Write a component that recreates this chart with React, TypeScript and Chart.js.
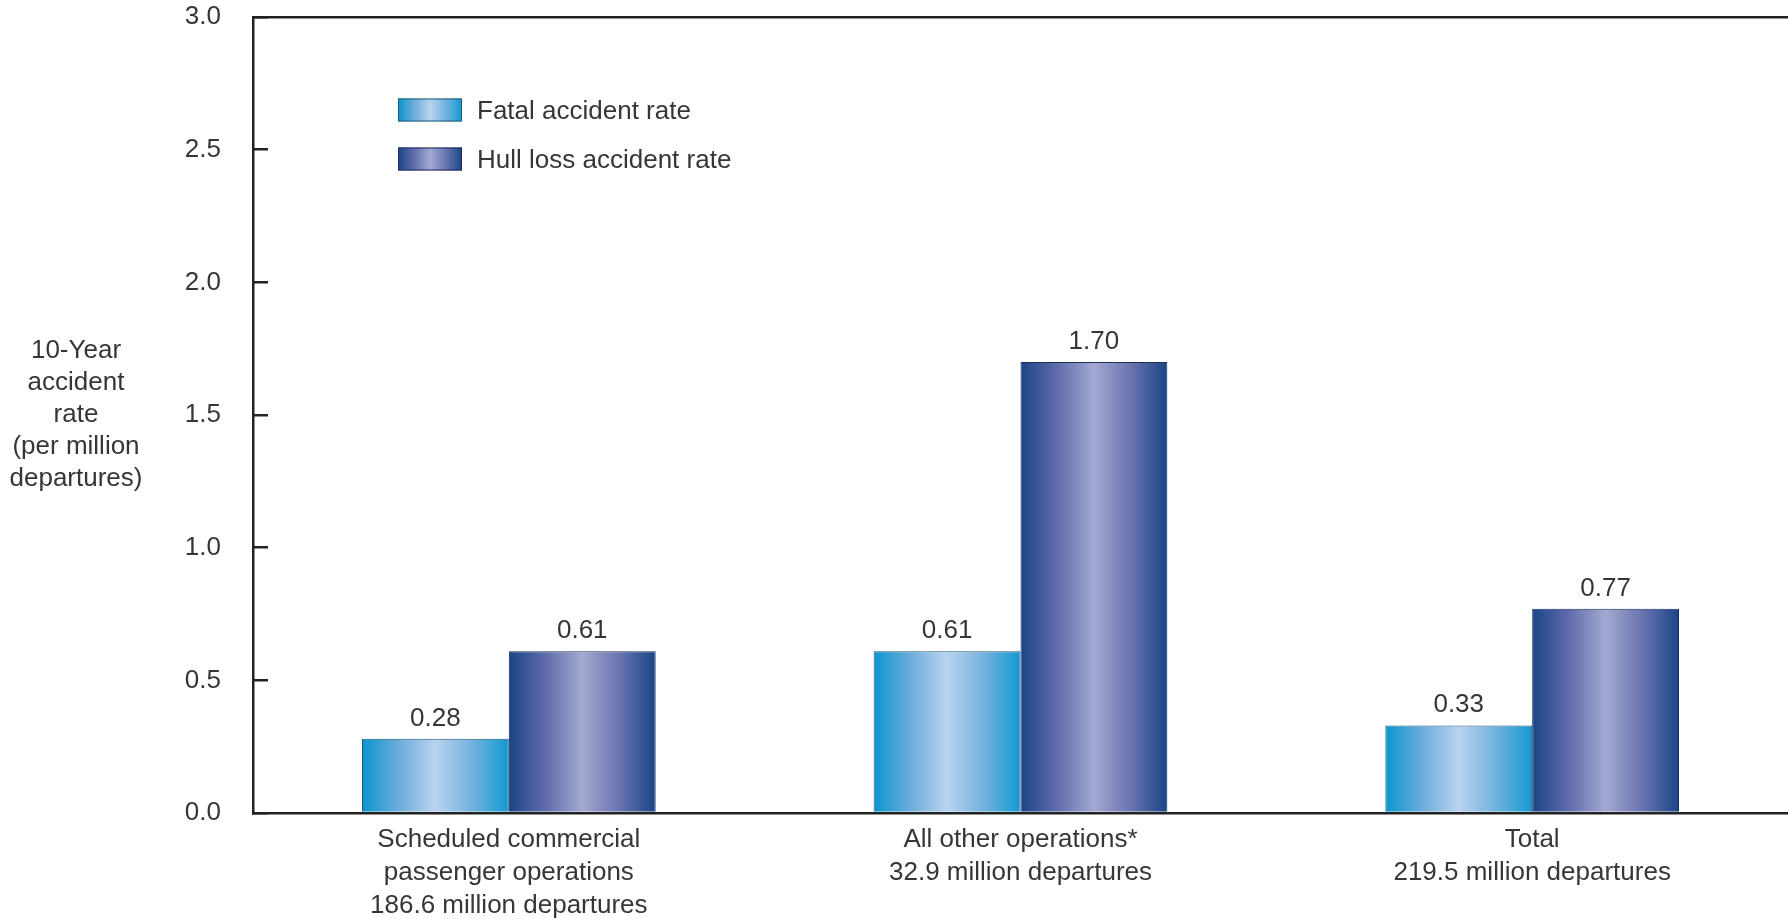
import React, { useEffect, useRef } from "react";
import { Chart, registerables } from "chart.js";

Chart.register(...registerables);

const categories: string[][] = [
  ["Scheduled commercial", "passenger operations", "186.6 million departures"],
  ["All other operations*", "32.9 million departures"],
  ["Total", "219.5 million departures"],
];
const seriesNames = ["Fatal accident rate", "Hull loss accident rate"];
const fatalRates = [0.28, 0.61, 0.33];
const hullLossRates = [0.61, 1.7, 0.77];
const yTitleLines = ["10-Year", "accident", "rate", "(per million", "departures)"];
const yMin = 0;
const yMax = 3;
const yStep = 0.5;

const FONT = "'Liberation Sans', Arial, sans-serif";
const FS = 26;
const TEXT = "#363636";
const AXIS = "#222222";

const gradientStops: [number, string][][] = [
  [
    [0, "#0a95cf"],
    [0.25, "#6badda"],
    [0.5, "#b9d3ef"],
    [0.75, "#72b2de"],
    [1, "#1499d2"],
  ],
  [
    [0, "#1a4487"],
    [0.25, "#5f6cab"],
    [0.5, "#a3a9d1"],
    [0.75, "#6a74b0"],
    [1, "#1a4487"],
  ],
];
const borderColors = ["#1d5a7e", "#1b2f62"];

function makeGradient(ctx: CanvasRenderingContext2D, left: number, width: number, idx: number) {
  const g = ctx.createLinearGradient(left, 0, left + width, 0);
  gradientStops[idx].forEach(([o, c]) => g.addColorStop(o, c));
  return g;
}

const gradientPlugin = {
  id: "barGradient",
  beforeDatasetsDraw(chart: any) {
    const ctx = chart.ctx;
    chart.data.datasets.forEach((_: any, i: number) => {
      const meta = chart.getDatasetMeta(i);
      meta.data.forEach((el: any) => {
        const { x, width } = el.getProps(["x", "width"], true);
        const left = x - width / 2;
        el.options = { ...el.options, backgroundColor: makeGradient(ctx, left, width, i) };
      });
    });
  },
};

const valueLabelPlugin = {
  id: "valueLabels",
  afterDatasetsDraw(chart: any) {
    const ctx = chart.ctx;
    ctx.save();
    ctx.font = `${FS}px ${FONT}`;
    ctx.fillStyle = TEXT;
    ctx.textAlign = "center";
    ctx.textBaseline = "alphabetic";
    chart.data.datasets.forEach((ds: any, i: number) => {
      const meta = chart.getDatasetMeta(i);
      meta.data.forEach((el: any, j: number) => {
        const { x, y } = el.getProps(["x", "y"], true);
        ctx.fillText(Number(ds.data[j]).toFixed(2), x, y - 13);
      });
    });
    ctx.restore();
  },
};

const legendPlugin = {
  id: "customLegend",
  afterDraw(chart: any) {
    const ctx = chart.ctx;
    ctx.save();
    const boxX = 398;
    const boxW = 64;
    const boxH = 23;
    const rowY = [110, 159];
    chart.data.datasets.forEach((ds: any, i: number) => {
      const cy = rowY[i];
      ctx.fillStyle = makeGradient(ctx, boxX, boxW, i);
      ctx.fillRect(boxX, cy - boxH / 2, boxW, boxH);
      ctx.strokeStyle = borderColors[i];
      ctx.lineWidth = 1;
      ctx.strokeRect(boxX + 0.5, cy - boxH / 2 + 0.5, boxW - 1, boxH - 1);
      ctx.font = `${FS}px ${FONT}`;
      ctx.fillStyle = TEXT;
      ctx.textAlign = "left";
      ctx.textBaseline = "middle";
      ctx.fillText(ds.label, 477, cy + 2);
    });
    ctx.restore();
  },
};

const yTitlePlugin = {
  id: "yTitle",
  afterDraw(chart: any) {
    const ctx = chart.ctx;
    const area = chart.chartArea;
    ctx.save();
    ctx.font = `${FS}px ${FONT}`;
    ctx.fillStyle = TEXT;
    ctx.textAlign = "center";
    ctx.textBaseline = "middle";
    const lh = 32;
    const mid = (area.top + area.bottom) / 2;
    const start = mid - ((yTitleLines.length - 1) * lh) / 2;
    yTitleLines.forEach((t, k) => ctx.fillText(t, 76, start + k * lh));
    ctx.restore();
  },
};

export default function App() {
  const ref = useRef<HTMLCanvasElement | null>(null);

  useEffect(() => {
    if (!ref.current) return;
    const chart = new Chart(ref.current, {
      type: "bar",
      data: {
        labels: categories,
        datasets: [
          {
            label: seriesNames[0],
            data: fatalRates,
            backgroundColor: () => "#5aa9d9",
            borderColor: borderColors[0],
            borderWidth: 1,
            borderSkipped: "bottom",
            categoryPercentage: 0.574,
            barPercentage: 1,
          },
          {
            label: seriesNames[1],
            data: hullLossRates,
            backgroundColor: () => "#5f6cab",
            borderColor: borderColors[1],
            borderWidth: 1,
            borderSkipped: "bottom",
            categoryPercentage: 0.574,
            barPercentage: 1,
          },
        ],
      },
      options: {
        animation: false,
        responsive: true,
        maintainAspectRatio: false,
        layout: { padding: { top: 17, left: 0, right: 0, bottom: 0 } },
        plugins: {
          legend: { display: false },
          tooltip: { enabled: false },
        },
        scales: {
          x: {
            grid: { display: false, drawTicks: false },
            border: { display: true, color: AXIS, width: 2.5 },
            ticks: {
              color: TEXT,
              padding: 10,
              maxRotation: 0,
              autoSkip: false,
              font: { family: FONT, size: FS, lineHeight: 1.27 },
            },
            afterFit: (s: any) => {
              s.height = 106;
              s.paddingLeft = 0;
              s.paddingRight = 0;
            },
          },
          y: {
            min: yMin,
            max: yMax,
            grid: {
              drawOnChartArea: true,
              drawTicks: true,
              tickLength: -15,
              lineWidth: 2.5,
              color: (c: any) => (c.tick && c.tick.value === yMax ? AXIS : "rgba(0,0,0,0)"),
              tickColor: AXIS,
            },
            border: { display: true, color: AXIS, width: 2.5 },
            ticks: {
              stepSize: yStep,
              color: TEXT,
              padding: 47,
              font: { family: FONT, size: FS },
              callback: (v: any) => Number(v).toFixed(1),
            },
            afterFit: (s: any) => {
              s.width = 253;
              s.paddingTop = 0;
              s.paddingBottom = 0;
            },
          },
        },
      },
      plugins: [gradientPlugin, valueLabelPlugin, legendPlugin, yTitlePlugin],
    });
    return () => chart.destroy();
  }, []);

  return (
    <div style={{ position: "fixed", left: 0, top: 0, width: "1788px", height: "919px", background: "#fff" }}>
      <canvas ref={ref} />
    </div>
  );
}
